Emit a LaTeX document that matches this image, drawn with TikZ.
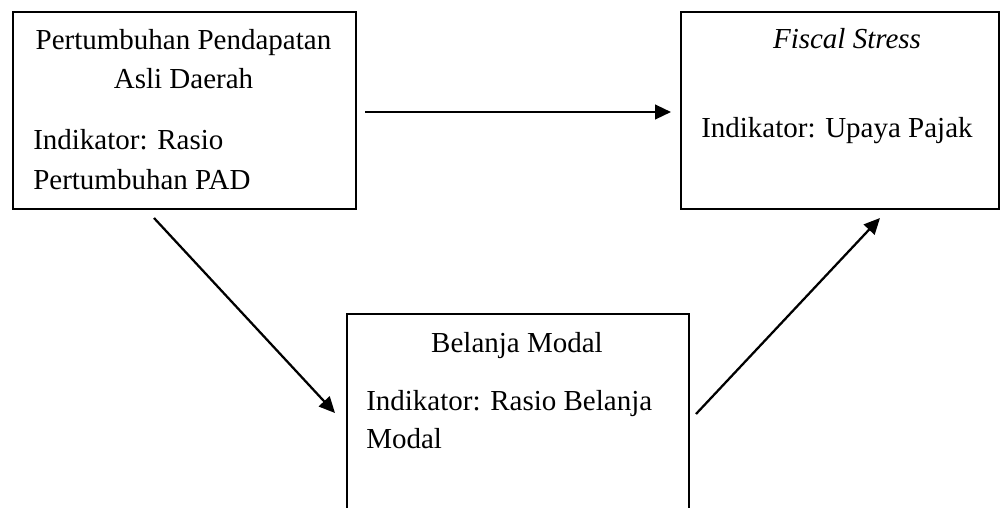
\documentclass[tikz,border=0pt]{standalone}
\usepackage{fontspec}
\setmainfont{Liberation Serif}
\usetikzlibrary{arrows.meta}
\begin{document}
\begin{tikzpicture}[x=0.75pt,y=-0.75pt,
  box/.style={draw, line width=1.5pt, rectangle, inner sep=0pt, anchor=north west},
  txt/.style={font=\fontsize{21.75}{30}\selectfont, inner sep=0pt},
  arr/.style={line width=1.7pt, -{Triangle[length=12pt,width=11pt]}}]
\useasboundingbox (0,0) rectangle (1003,507);
\clip (0,0) rectangle (1003,507);
% boxes
\node[box, minimum width=257.25pt, minimum height=147.75pt] (pad) at (12,11) {};
\node[box, minimum width=238.5pt, minimum height=147.75pt] (fs) at (680,11) {};
\node[box, minimum width=256.5pt, minimum height=170.25pt] (bm) at (346,313) {};
% texts
\node[txt, anchor=base] (t1) at (183.5,49) {Pertumbuhan Pendapatan};
\node[txt, anchor=base] (t2) at (183.5,88) {Asli Daerah};
\node[txt, anchor=base west] (t3) at (33,149) {Indikator: Rasio};
\node[txt, anchor=base west] (t4) at (33,189) {Pertumbuhan PAD};
\node[txt, anchor=base] (t5) at (847,48) {\itshape Fiscal Stress};
\node[txt, anchor=base west] (t6) at (701,137) {Indikator: Upaya Pajak};
\node[txt, anchor=base] (t7) at (517,352) {Belanja Modal};
\node[txt, anchor=base west] (t8) at (366,410) {Indikator: Rasio Belanja};
\node[txt, anchor=base west] (t9) at (366,448) {Modal};
% arrow ends
\coordinate (a1s) at (365,112);
\coordinate (a1e) at (671,112);
\coordinate (a2s) at (154,218);
\coordinate (a2e) at (335,413);
\coordinate (a3s) at (696,414);
\coordinate (a3e) at (880,218);
\draw[arr] (a1s) -- (a1e);
\draw[arr] (a2s) -- (a2e);
\draw[arr] (a3s) -- (a3e);
\end{tikzpicture}
\end{document}
